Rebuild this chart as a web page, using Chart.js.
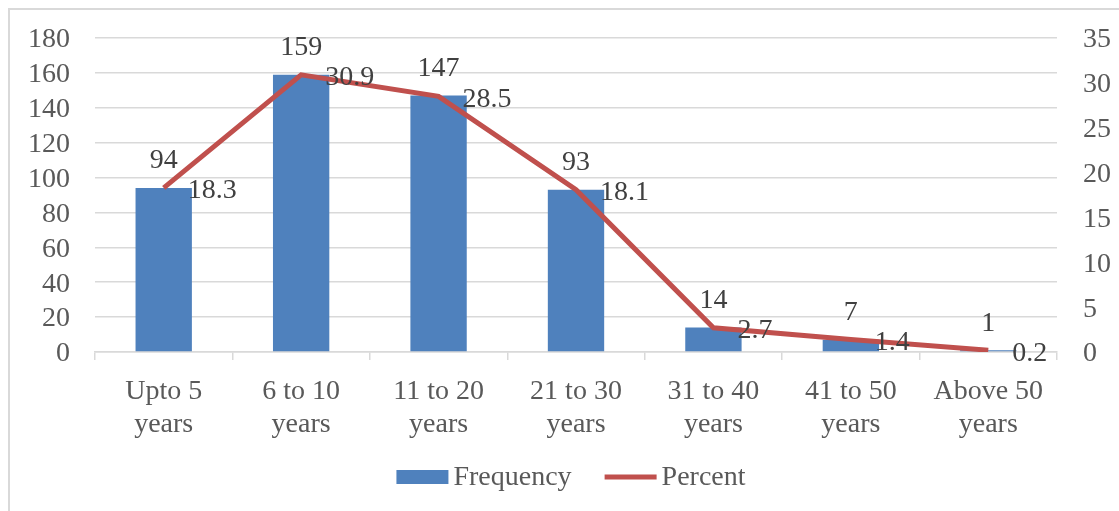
<!DOCTYPE html>
<html>
<head>
<meta charset="utf-8">
<script src="https://cdn.jsdelivr.net/npm/chart.js@4"></script>
<style>
  html, body { margin: 0; padding: 0; background: #ffffff; overflow: hidden; }
  #wrap { position: relative; width: 1119px; height: 511px; }
  #frame { position: absolute; left: 8px; top: 8px; width: 1130px; height: 520px;
           border: 2px solid #D9D9D9; box-sizing: border-box; pointer-events: none; }
  canvas { position: absolute; left: 0; top: 0; }
</style>
</head>
<body>
<div id="wrap">
  <canvas id="chart" width="1119" height="511"></canvas>
  <div id="frame"></div>
</div>
<script>
// Years of experience groups
const categories = [
  ['Upto 5', 'years'],
  ['6 to 10', 'years'],
  ['11 to 20', 'years'],
  ['21 to 30', 'years'],
  ['31 to 40', 'years'],
  ['41 to 50', 'years'],
  ['Above 50', 'years']
];
const frequency = [94, 159, 147, 93, 14, 7, 1];
const percent = [18.3, 30.9, 28.5, 18.1, 2.7, 1.4, 0.2];

const BAR_COLOR = '#4F81BD';
const LINE_COLOR = '#C0504D';
const GRID_COLOR = '#D9D9D9';
const TEXT_COLOR = '#595959';
const LABEL_COLOR = '#404040';
const FONT = 'Liberation Serif, "Times New Roman", serif';

// Value labels: above the bars, to the right of the line points
const valueLabels = {
  id: 'valueLabels',
  afterDatasetsDraw(chart) {
    const ctx = chart.ctx;
    ctx.save();
    ctx.font = '28px ' + FONT;
    ctx.fillStyle = LABEL_COLOR;
    chart.data.datasets.forEach((ds, i) => {
      const meta = chart.getDatasetMeta(i);
      meta.data.forEach((el, j) => {
        const v = ds.data[j];
        ctx.textBaseline = 'middle';
        if (ds.type === 'bar') {
          ctx.textAlign = 'center';
          ctx.fillText(String(v), el.x, el.y - 27);
        } else {
          ctx.textAlign = 'left';
          ctx.fillText(v.toFixed(1), el.x + 24, el.y + 3);
        }
      });
    });
    ctx.restore();
  }
};

// Legend along the bottom: bar swatch and line swatch
const bottomLegend = {
  id: 'bottomLegend',
  afterDraw(chart) {
    const ctx = chart.ctx;
    const ca = chart.chartArea;
    ctx.save();
    ctx.font = '28px ' + FONT;
    ctx.textBaseline = 'middle';
    ctx.textAlign = 'left';
    const swW = 52, gapText = 5, gapItem = 33;
    const items = chart.data.datasets.map(ds => ({
      ds, w: swW + gapText + ctx.measureText(ds.label).width
    }));
    const total = items.reduce((s, it) => s + it.w, 0) + gapItem * (items.length - 1);
    let x = (ca.left + ca.right) / 2 - 5 - total / 2;
    const y = 477;
    items.forEach(it => {
      if (it.ds.type === 'bar') {
        ctx.fillStyle = it.ds.backgroundColor;
        ctx.fillRect(x, y - 7, swW, 14);
      } else {
        ctx.strokeStyle = it.ds.borderColor;
        ctx.lineWidth = it.ds.borderWidth;
        ctx.beginPath();
        ctx.moveTo(x, y);
        ctx.lineTo(x + swW, y);
        ctx.stroke();
      }
      ctx.fillStyle = TEXT_COLOR;
      ctx.fillText(it.ds.label, x + swW + gapText, y + 1);
      x += it.w + gapItem;
    });
    ctx.restore();
  }
};

// Fixed axis widths; tick labels may overhang the plot area freely
function fixVertical(width) {
  return scale => {
    scale.width = width;
    scale.paddingTop = 0;
    scale.paddingBottom = 0;
  };
}

new Chart(document.getElementById('chart'), {
  data: {
    labels: categories,
    datasets: [
      {
        type: 'bar',
        label: 'Frequency',
        data: frequency,
        backgroundColor: BAR_COLOR,
        borderWidth: 0,
        yAxisID: 'y',
        barPercentage: 0.41,
        categoryPercentage: 1.0,
        order: 2
      },
      {
        type: 'line',
        label: 'Percent',
        data: percent,
        borderColor: LINE_COLOR,
        backgroundColor: LINE_COLOR,
        borderWidth: 5,
        pointRadius: 0,
        tension: 0,
        yAxisID: 'y1',
        order: 1
      }
    ]
  },
  options: {
    responsive: false,
    animation: false,
    devicePixelRatio: 1,
    layout: { padding: { left: 0, right: 0, top: 38, bottom: 60 } },
    plugins: {
      legend: { display: false },
      tooltip: { enabled: false }
    },
    scales: {
      x: {
        offset: true,
        grid: {
          offset: true,
          drawOnChartArea: false,
          drawTicks: true,
          tickLength: 8,
          color: GRID_COLOR,
          lineWidth: 1.5
        },
        border: { display: true, color: GRID_COLOR, width: 1.5 },
        ticks: {
          color: TEXT_COLOR,
          font: { family: FONT, size: 28, lineHeight: 1.18 },
          padding: 15,
          maxRotation: 0,
          autoSkip: false
        },
        afterFit(scale) { scale.height = 99; }
      },
      y: {
        position: 'left',
        min: 0,
        max: 180,
        ticks: {
          stepSize: 20,
          autoSkip: false,
          color: TEXT_COLOR,
          font: { family: FONT, size: 28 },
          padding: 25,
          labelOffset: 2
        },
        grid: { color: GRID_COLOR, lineWidth: 1.5, drawTicks: false },
        border: { display: false },
        afterFit: fixVertical(95)
      },
      y1: {
        position: 'right',
        min: 0,
        max: 35,
        ticks: {
          stepSize: 5,
          autoSkip: false,
          color: TEXT_COLOR,
          font: { family: FONT, size: 28 },
          padding: 26,
          labelOffset: 2
        },
        grid: { drawOnChartArea: false, drawTicks: false },
        border: { display: false },
        afterFit: fixVertical(62)
      }
    }
  },
  plugins: [valueLabels, bottomLegend]
});
</script>
</body>
</html>
